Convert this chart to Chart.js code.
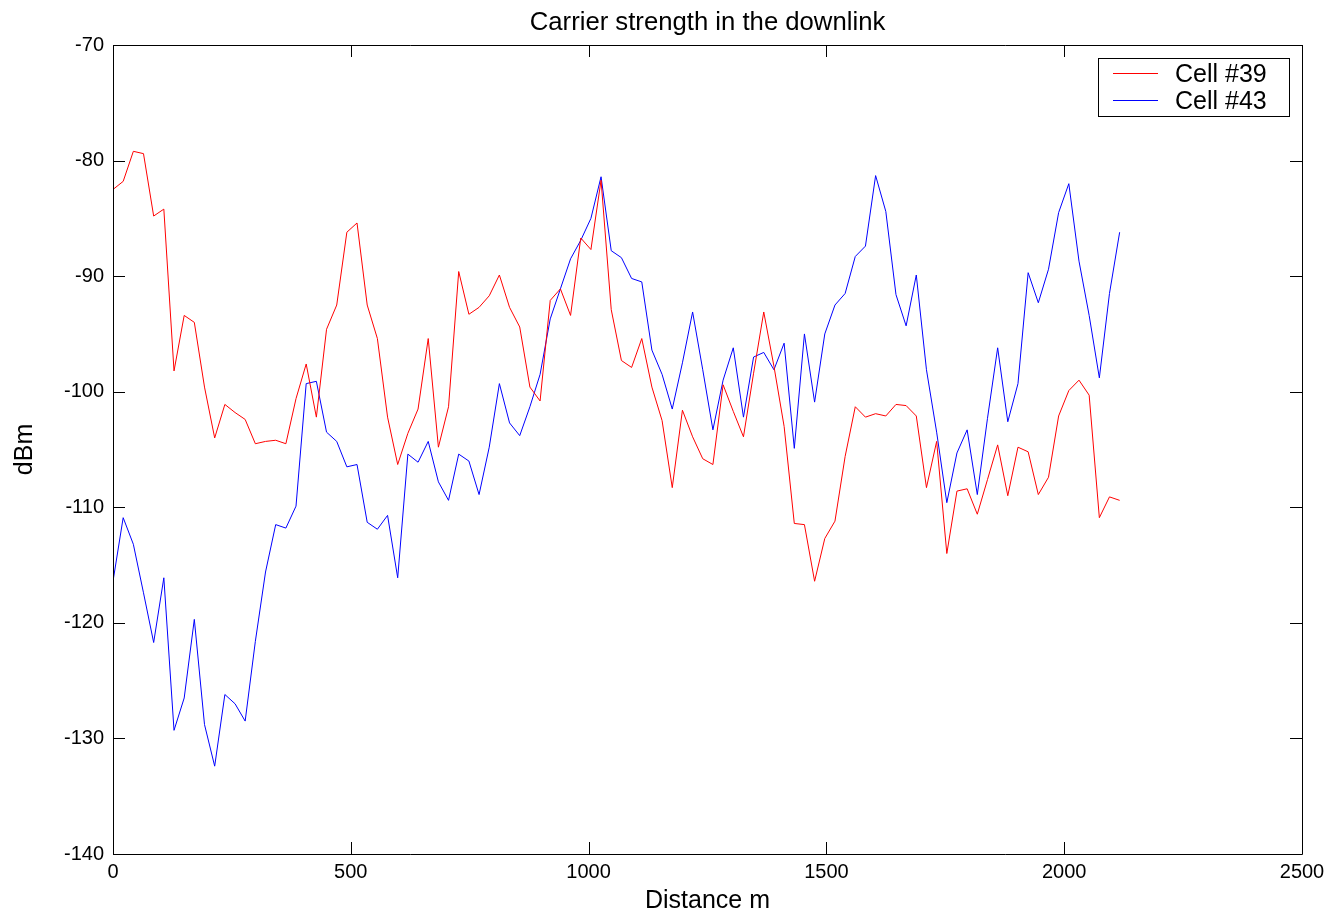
<!DOCTYPE html>
<html>
<head>
<meta charset="utf-8">
<script src="https://cdn.jsdelivr.net/npm/chart.js@4.4.0/dist/chart.umd.min.js"></script>
<style>
  html, body { margin: 0; padding: 0; background: #fff; }
  #wrap { width: 1337px; height: 916px; }
</style>
</head>
<body>
<div id="wrap"><canvas id="myChart" width="1337" height="916"></canvas></div>
<script>
// distance along the route, m
const distance = [
  0, 21.4, 42.8, 64.1, 85.5, 106.9, 128.3, 149.7, 171.0, 192.4,
  213.8, 235.2, 256.6, 277.9, 299.3, 320.7, 342.1, 363.5, 384.8, 406.2,
  427.6, 449.0, 470.4, 491.7, 513.1, 534.5, 555.9, 577.3, 598.6, 620.0,
  641.4, 662.8, 684.2, 705.5, 726.9, 748.3, 769.7, 791.1, 812.4, 833.8,
  855.2, 876.6, 898.0, 919.3, 940.7, 962.1, 983.5, 1004.9, 1026.2, 1047.6,
  1069.0, 1090.4, 1111.8, 1133.1, 1154.5, 1175.9, 1197.3, 1218.7, 1240.0, 1261.4,
  1282.8, 1304.2, 1325.6, 1346.9, 1368.3, 1389.7, 1411.1, 1432.5, 1453.8, 1475.2,
  1496.6, 1518.0, 1539.4, 1560.7, 1582.1, 1603.5, 1624.9, 1646.3, 1667.6, 1689.0,
  1710.4, 1731.8, 1753.2, 1774.5, 1795.9, 1817.3, 1838.7, 1860.1, 1881.4, 1902.8,
  1924.2, 1945.6, 1967.0, 1988.3, 2009.7, 2031.1, 2052.5, 2073.9, 2095.2, 2116.6
]

// dBm, cell #39
const cell39 = [
  -82.5, -81.8, -79.2, -79.4, -84.8, -84.2, -98.2, -93.4, -94.0, -99.6,
  -104.0, -101.1, -101.8, -102.4, -104.5, -104.3, -104.2, -104.5, -100.6, -97.6,
  -102.2, -94.6, -92.5, -86.2, -85.4, -92.5, -95.4, -102.2, -106.3, -103.6,
  -101.5, -95.4, -104.8, -101.3, -89.6, -93.3, -92.7, -91.7, -89.9, -92.7,
  -94.4, -99.6, -100.8, -92.1, -91.1, -93.4, -86.7, -87.7, -81.7, -92.9,
  -97.3, -97.9, -95.4, -99.6, -102.5, -108.3, -101.6, -103.9, -105.8, -106.3,
  -99.4, -101.7, -103.9, -98.4, -93.1, -97.8, -103.0, -111.4, -111.5, -116.4,
  -112.7, -111.2, -105.6, -101.3, -102.2, -101.9, -102.1, -101.1, -101.2, -102.1,
  -108.3, -104.3, -114.0, -108.6, -108.4, -110.6, -107.6, -104.6, -109.0, -104.8,
  -105.2, -108.9, -107.4, -102.1, -99.9, -99.0, -100.3, -110.9, -109.1, -109.4
]

// dBm, cell #43
const cell43 = [
  -116.4, -110.9, -113.2, -117.4, -121.7, -116.1, -129.3, -126.5, -119.7, -128.8,
  -132.4, -126.2, -127.0, -128.5, -121.6, -115.6, -111.5, -111.8, -109.9, -99.3,
  -99.1, -103.5, -104.3, -106.5, -106.3, -111.3, -111.9, -110.7, -116.1, -105.4,
  -106.1, -104.3, -107.8, -109.4, -105.4, -106.0, -108.9, -104.8, -99.3, -102.7,
  -103.8, -101.3, -98.5, -93.7, -91.1, -88.5, -86.9, -85.0, -81.4, -87.8,
  -88.4, -90.2, -90.5, -96.4, -98.5, -101.5, -97.5, -93.1, -98.1, -103.3,
  -99.0, -96.2, -102.2, -97.0, -96.6, -98.1, -95.8, -104.9, -95.0, -100.9,
  -95.0, -92.5, -91.5, -88.3, -87.4, -81.3, -84.4, -91.6, -94.3, -89.9,
  -98.1, -103.5, -109.6, -105.3, -103.3, -108.9, -102.3, -96.2, -102.6, -99.3,
  -89.7, -92.3, -89.4, -84.5, -82.0, -88.7, -93.4, -98.8, -91.5, -86.2
]

const seriesNames = ['Cell #39', 'Cell #43']
const seriesColors = ['#ff0000', '#0000ff']
const chartTitle = 'Carrier strength in the downlink'

const FONT = 'Liberation Sans, Arial, sans-serif'

function toPoints(ys) {
  return ys.map((y, i) => ({ x: distance[i], y: y }))
}

// matlab-like box, inward ticks, title over the axes and a legend inside them
const matlabAxes = {
  id: 'matlabAxes',
  afterDraw(chart) {
    const ctx = chart.ctx
    const a = chart.chartArea
    const xs = chart.scales.x
    const ys = chart.scales.y
    const tl = 12
    ctx.save()
    ctx.strokeStyle = '#000'
    ctx.lineWidth = 1
    ctx.beginPath()
    ctx.rect(Math.round(a.left) + 0.5, Math.round(a.top) + 0.5,
             Math.round(a.right - a.left), Math.round(a.bottom - a.top))
    xs.ticks.forEach(t => {
      const px = Math.round(xs.getPixelForValue(t.value)) + 0.5
      ctx.moveTo(px, a.bottom); ctx.lineTo(px, a.bottom - tl)
      ctx.moveTo(px, a.top); ctx.lineTo(px, a.top + tl)
    })
    ys.ticks.forEach(t => {
      const py = Math.round(ys.getPixelForValue(t.value)) + 0.5
      ctx.moveTo(a.left, py); ctx.lineTo(a.left + tl, py)
      ctx.moveTo(a.right, py); ctx.lineTo(a.right - tl, py)
    })
    ctx.stroke()

    // title, centred on the plot box like matlab does
    ctx.fillStyle = '#000'
    ctx.font = '25.7px ' + FONT
    ctx.textAlign = 'center'
    ctx.textBaseline = 'middle'
    ctx.fillText(chartTitle, (a.left + a.right) / 2, 23)

    // legend
    const bx = 1098, by = 58, bw = 191, bh = 58
    ctx.fillStyle = '#fff'
    ctx.fillRect(bx, by, bw, bh)
    ctx.strokeRect(bx + 0.5, by + 0.5, bw, bh)
    ctx.font = '25px ' + FONT
    ctx.textAlign = 'left'
    chart.data.datasets.forEach((ds, i) => {
      const y = by + 15 + i * 27
      ctx.strokeStyle = ds.borderColor
      ctx.beginPath()
      ctx.moveTo(bx + 15, y + 0.5); ctx.lineTo(bx + 60, y + 0.5)
      ctx.stroke()
      ctx.fillStyle = '#000'
      ctx.fillText(ds.label, bx + 77, y + 2)
    })
    ctx.restore()
  }
}

const ctx = document.getElementById('myChart').getContext('2d')

const myChart = new Chart(ctx, {
  type: 'line',
  data: {
    datasets: [
      { label: seriesNames[0], data: toPoints(cell39), borderColor: seriesColors[0] },
      { label: seriesNames[1], data: toPoints(cell43), borderColor: seriesColors[1] }
    ]
  },
  options: {
    responsive: false,
    animation: false,
    layout: { padding: { left: 0, right: 35, top: 45, bottom: 0 } },
    elements: {
      line: { borderWidth: 1, tension: 0 },
      point: { radius: 0 }
    },
    plugins: {
      legend: { display: false },
      tooltip: { enabled: false },
      title: { display: false }
    },
    scales: {
      x: {
        type: 'linear',
        min: 0,
        max: 2500,
        grid: { display: false, drawTicks: false },
        border: { display: false },
        ticks: { stepSize: 500, color: '#000', padding: 6, maxRotation: 0,
                 font: { family: FONT, size: 20 },
                 callback: v => String(v) },
        title: { display: true, text: 'Distance m', color: '#000',
                 font: { family: FONT, size: 25 }, padding: { top: 0, bottom: 0 } },
        afterFit(scale) { scale.height = 62 }
      },
      y: {
        min: -140,
        max: -70,
        grid: { display: false, drawTicks: false },
        border: { display: false },
        ticks: { stepSize: 10, color: '#000', padding: 9,
                 font: { family: FONT, size: 20 },
                 callback: v => String(v) },
        title: { display: true, text: 'dBm', color: '#000',
                 font: { family: FONT, size: 25 }, padding: { top: 10, bottom: 0 } },
        afterFit(scale) { scale.width = 113 }
      }
    }
  },
  plugins: [matlabAxes]
})
</script>
</body>
</html>
